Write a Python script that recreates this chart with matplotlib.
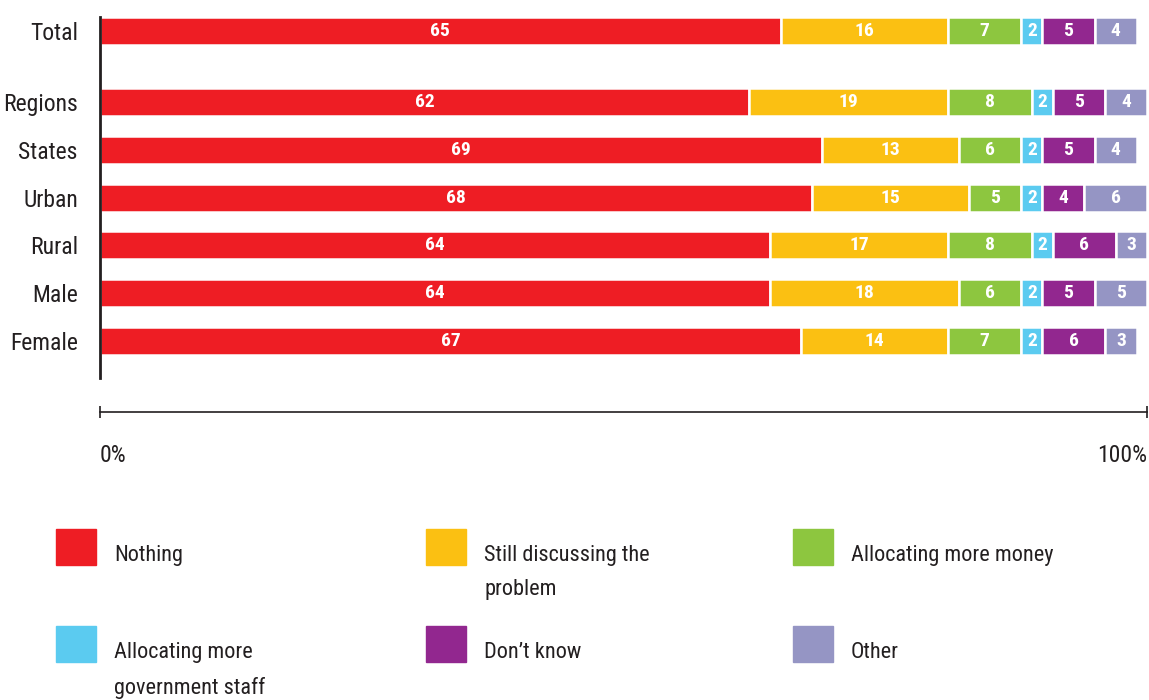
import matplotlib
matplotlib.use("Agg")
import matplotlib.pyplot as plt
from matplotlib.patches import Rectangle
from matplotlib import font_manager
from matplotlib.font_manager import FontProperties

categories = ["Total", "Regions", "States", "Urban", "Rural", "Male", "Female"]
positions = [0, 1.5, 2.5, 3.5, 4.5, 5.5, 6.5]
series_names = ["Nothing", "Still discussing the\nproblem", "Allocating more money",
                "Allocating more\ngovernment staff", "Don\u2019t know", "Other"]
colors = ["#EE1D24", "#FBC012", "#8DC63F", "#5BCBF0", "#92278F", "#9595C4"]
nothing = [65, 62, 69, 68, 64, 64, 67]
discussing = [16, 19, 13, 15, 17, 18, 14]
money = [7, 8, 6, 5, 8, 6, 7]
staff = [2, 2, 2, 2, 2, 2, 2]
dont_know = [5, 5, 5, 4, 6, 5, 6]
other = [4, 4, 4, 6, 3, 5, 3]
series = [nothing, discussing, money, staff, dont_know, other]
xtick_labels = ["0%", "100%"]

# find a condensed font
ttf = font_manager.fontManager.ttflist
def is_bold(f):
    w = f.weight
    if isinstance(w, int):
        return w >= 600
    return "bold" in str(w).lower() or "heavy" in str(w).lower() or "black" in str(w).lower()

def find(weight_bold):
    prefs = ["Liberation Sans Narrow", "Roboto Condensed", "Open Sans Condensed",
             "Noto Sans Condensed", "DejaVu Sans Condensed"]
    for p in prefs:
        for f in ttf:
            if f.name == p and is_bold(f) == weight_bold and f.style == "normal":
                return f.fname
    for f in ttf:
        st = str(f.stretch).lower()
        if "condensed" in st and f.style == "normal" and \
                f.name in ("DejaVu Sans", "Noto Sans", "Open Sans", "Roboto"):
            if is_bold(f) == weight_bold:
                return f.fname
    return None

reg = find(False)
bold = find(True)
fp_reg = FontProperties(fname=reg) if reg else FontProperties(family="DejaVu Sans", stretch="condensed")
fp_bold = FontProperties(fname=bold) if bold else FontProperties(family="DejaVu Sans", weight="bold", stretch="condensed")

def fpc(base, size):
    p = base.copy()
    p.set_size(size)
    return p

W, H = 1149, 700
fig = plt.figure(figsize=(W / 100, H / 100), dpi=100)
ax = fig.add_axes([100 / W, 1 - 412 / H, 1047 / W, 412 / H])

left = [0] * len(categories)
for vals, col in zip(series, colors):
    bars = ax.barh(positions, vals, left=left, height=0.59, color=col,
                   edgecolor="white", linewidth=1.8)
    for b, v in zip(bars, vals):
        ax.text(b.get_x() + b.get_width() / 2, b.get_y() + b.get_height() / 2,
                str(v), ha="center", va="center", color="white",
                fontproperties=fpc(fp_bold, 14))
    left = [l + v for l, v in zip(left, vals)]

ax.set_xlim(0, 100)
ax.set_ylim(8.0, -0.65)
ax.set_yticks(positions)
ax.set_yticklabels(categories, color="#231F20", fontproperties=fpc(fp_reg, 17))
ax.tick_params(axis="y", length=0, pad=16)
ax.set_xticks([0, 100])
ax.set_xticklabels(xtick_labels, color="#231F20", fontproperties=fpc(fp_reg, 17))
ax.tick_params(axis="x", direction="inout", length=8.6, width=1.2,
               color="#231F20", pad=19)
xl = ax.get_xticklabels()
xl[0].set_ha("left")
xl[1].set_ha("right")
for s in ["top", "right"]:
    ax.spines[s].set_visible(False)
ax.spines["left"].set_bounds(-0.3, 7.29)
ax.spines["left"].set_linewidth(2)
ax.spines["left"].set_color("#231F20")
ax.spines["bottom"].set_linewidth(1.2)
ax.spines["bottom"].set_color("#231F20")

# legend
col_x = [56, 426, 793]
row_y = [529, 626]
for i, (name, col) in enumerate(zip(series_names, colors)):
    x0 = col_x[i % 3]
    y0 = row_y[i // 3]
    fig.patches.append(Rectangle((x0 / W, 1 - (y0 + 36) / H), 40 / W, 36 / H,
                                 transform=fig.transFigure, color=col))
    fig.text((x0 + 58) / W, 1 - (y0 + 16) / H, name, ha="left", va="top",
             color="#231F20", linespacing=1.8, fontproperties=fpc(fp_reg, 16))

fig.savefig("out.png", dpi=100)
